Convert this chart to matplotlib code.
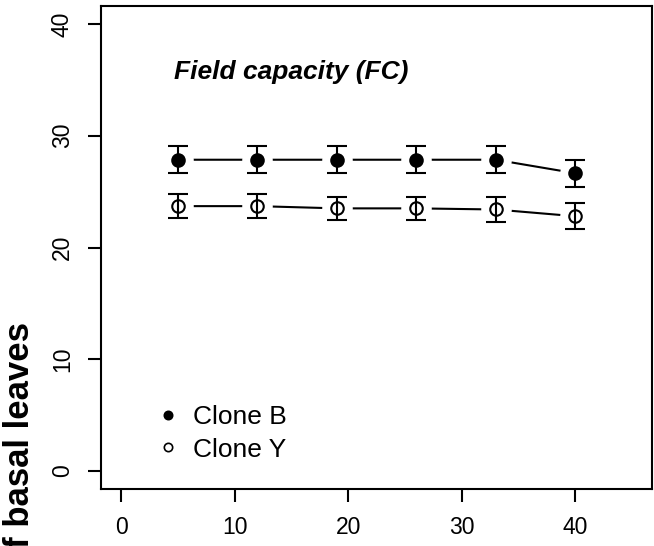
import numpy as np
import matplotlib
matplotlib.use("Agg")
import matplotlib.pyplot as plt
from matplotlib.lines import Line2D

plt.rcParams['font.family'] = ['Liberation Sans', 'DejaVu Sans']

# days after treatment
days = [5, 12, 19, 26, 33, 40]
# clone B (filled) and clone Y (open): mean and error
clone_b = [27.85, 27.85, 27.85, 27.85, 27.85, 26.65]
clone_b_err = [1.2, 1.2, 1.2, 1.2, 1.2, 1.2]
clone_y = [23.7, 23.7, 23.5, 23.5, 23.4, 22.8]
clone_y_err = [1.05, 1.05, 1.05, 1.05, 1.1, 1.15]

x_ticks = [0, 10, 20, 30, 40]
y_ticks = [0, 10, 20, 30, 40]

fig = plt.figure(figsize=(6.54, 5.46), dpi=100)
ax = fig.add_axes([101/654, 1-489/546, 551/654, 483/546])

for y, e, face in [(clone_b, clone_b_err, 'black'), (clone_y, clone_y_err, 'none')]:
    # connecting line, broken near the points like R's type="b"
    ax.plot(days, y, color='black', lw=1.5, zorder=1)
    ax.plot(days, y, 'o', ms=22, mfc='white', mec='none', zorder=2)
    ax.errorbar(days, y, yerr=e, fmt='none', ecolor='black', elinewidth=1.5,
                capsize=7.5, capthick=1.5, zorder=3)
    ax.plot(days, y, 'o', ms=9, mfc=face, mec='black', mew=1.5, zorder=4)

ax.text(15, 35.7, 'Field capacity (FC)', fontsize=19, fontweight='bold',
        fontstyle='italic', ha='center', va='center')

handles = [Line2D([], [], ls='none', marker='o', ms=6, mfc='black', mec='black', mew=1.2),
           Line2D([], [], ls='none', marker='o', ms=6, mfc='none', mec='black', mew=1.2)]
ax.legend(handles, ['Clone B', 'Clone Y'], loc='lower left', bbox_to_anchor=(0.083, 0.035),
          frameon=False, fontsize=19, handlelength=0.8, handletextpad=0.55,
          labelspacing=0.32, borderaxespad=0)

ax.set_xlim(-1.8, 46.8)
ax.set_ylim(-1.6, 41.6)
ax.set_xticks(x_ticks)
ax.set_yticks(y_ticks)
ax.tick_params(direction='out', length=9.5, width=1.5, labelsize=16.5, pad=10)
plt.setp(ax.get_yticklabels(), rotation=90, va='center')
for s in ax.spines.values():
    s.set_linewidth(1.5)

fig.text(0.030, 1-322/546, 'Number of basal leaves', rotation=90, fontsize=25,
         fontweight='bold', ha='center', va='top')

fig.savefig('out.png', dpi=100)
